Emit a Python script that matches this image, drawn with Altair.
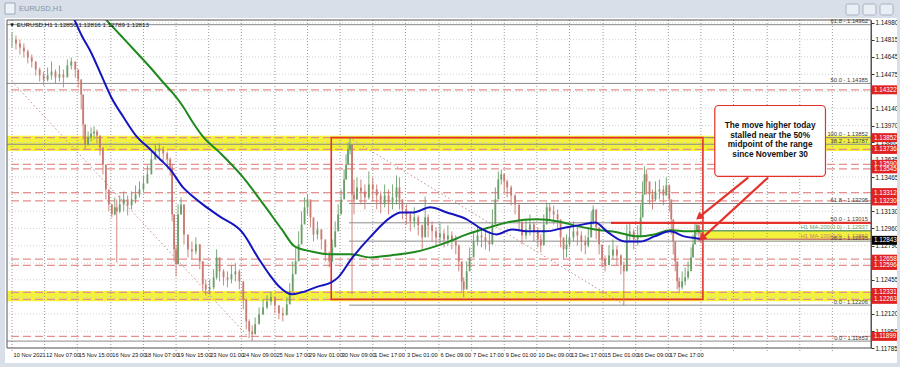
import altair as alt
import pandas as pd

W, H = 864, 328

# ---------------- price samples (bar index, close, high, low) ----------------
bar_x = [0, 4, 8, 12, 16, 20, 24, 28, 32, 36,
         40, 44, 48, 52, 56, 60, 64, 67, 70, 72,
         74, 77, 80, 83, 86, 89, 92, 95, 98, 101,
         104, 106, 109, 113, 117, 121, 125, 129, 133, 137,
         141, 145, 149, 153, 157, 160, 162, 164, 166, 168,
         171, 174, 178, 182, 186, 190, 193, 196, 200, 204,
         207, 210, 214, 218, 222, 226, 230, 234, 237, 240,
         243, 246, 250, 254, 258, 262, 266, 270, 274, 278,
         281, 284, 287, 290, 293, 296, 299, 302, 305, 309,
         313, 317, 321, 324, 327, 330, 333, 336, 338, 340,
         342, 344, 346, 349, 353, 357, 361, 365, 369, 373,
         377, 381, 385, 389, 392, 395, 399, 403, 407, 411,
         415, 418, 421, 425, 429, 433, 437, 441, 445, 449,
         452, 455, 457, 460, 463, 467, 471, 475, 479, 483,
         486, 489, 492, 495, 498, 501, 505, 509, 513, 516,
         520, 524, 528, 532, 535, 538, 541, 544, 548, 552,
         555, 558, 561, 564, 568, 572, 576, 580, 583, 586,
         588, 591, 594, 597, 600, 604, 608, 612, 616, 619,
         622, 625, 629, 633, 636, 638, 640, 642, 645, 648,
         651, 655, 659, 662, 665, 667, 669, 671, 673, 675,
         678, 681, 684, 687, 689, 691, 693, 695, 697, 699]
close = [1.14816, 1.14777, 1.14738, 1.14698, 1.14639, 1.14600, 1.14522, 1.14463, 1.14423, 1.14463,
         1.14502, 1.14443, 1.14473, 1.14443, 1.14561, 1.14600, 1.14522, 1.14423, 1.14276, 1.13982,
         1.13785, 1.13854, 1.13893, 1.13913, 1.13873, 1.13756, 1.13589, 1.13343, 1.13196, 1.13098,
         1.13167, 1.13127, 1.13196, 1.13245, 1.13186, 1.13245, 1.13294, 1.13343, 1.13402, 1.13491,
         1.13638, 1.13716, 1.13736, 1.13697, 1.13638, 1.13559, 1.13098, 1.12754, 1.12607, 1.13098,
         1.13196, 1.12901, 1.12754, 1.12734, 1.12803, 1.12636, 1.12410, 1.12361, 1.12381, 1.12479,
         1.12675, 1.12538, 1.12479, 1.12459, 1.12509, 1.12538, 1.12440, 1.12263, 1.12047, 1.11949,
         1.11919, 1.12018, 1.12116, 1.12184, 1.12243, 1.12283, 1.12204, 1.12126, 1.12106, 1.12214,
         1.12342, 1.12509, 1.12636, 1.12803, 1.12999, 1.13167, 1.13245, 1.13068, 1.12901, 1.12950,
         1.12852, 1.12705, 1.12636, 1.12774, 1.12931, 1.13098, 1.13245, 1.13441, 1.13589, 1.13736,
         1.13785, 1.13294, 1.13245, 1.13363, 1.13323, 1.13265, 1.13392, 1.13343, 1.13284, 1.13206,
         1.13284, 1.13216, 1.13265, 1.13363, 1.13245, 1.13147, 1.13098, 1.13029, 1.13068, 1.12990,
         1.12872, 1.13068, 1.12990, 1.12931, 1.12872, 1.12911, 1.12852, 1.12891, 1.12832, 1.12793,
         1.12636, 1.12440, 1.12361, 1.12538, 1.12675, 1.12832, 1.12891, 1.12872, 1.12832, 1.12803,
         1.12999, 1.13245, 1.13441, 1.13491, 1.13422, 1.13363, 1.13284, 1.13196, 1.13029, 1.12891,
         1.12950, 1.12999, 1.12931, 1.12852, 1.12793, 1.12999, 1.13167, 1.13127, 1.13098, 1.13049,
         1.12872, 1.12754, 1.12803, 1.12872, 1.12931, 1.12891, 1.12832, 1.12793, 1.12872, 1.13029,
         1.13147, 1.12970, 1.12803, 1.12656, 1.12597, 1.12695, 1.12754, 1.12695, 1.12597, 1.12538,
         1.12901, 1.12931, 1.12852, 1.12891, 1.13068, 1.13294, 1.13491, 1.13422, 1.13294, 1.13245,
         1.13323, 1.13343, 1.13284, 1.13382, 1.13245, 1.13049, 1.12832, 1.12636, 1.12440, 1.12381,
         1.12440, 1.12479, 1.12538, 1.12675, 1.12803, 1.12931, 1.12990, 1.12911, 1.12852, 1.12843]
high = [1.14885, 1.14855, 1.14816, 1.14777, 1.14718, 1.14669, 1.14600, 1.14541, 1.14502, 1.14541,
        1.14600, 1.14522, 1.14561, 1.14522, 1.14620, 1.14639, 1.14600, 1.14502, 1.14423, 1.14178,
        1.13952, 1.13913, 1.13952, 1.13962, 1.13932, 1.13854, 1.13716, 1.13491, 1.13294, 1.13196,
        1.13265, 1.13245, 1.13284, 1.13323, 1.13284, 1.13323, 1.13382, 1.13422, 1.13481, 1.13579,
        1.13716, 1.13785, 1.13795, 1.13765, 1.13716, 1.13657, 1.13589, 1.13098, 1.12803, 1.13196,
        1.13265, 1.13196, 1.12872, 1.12832, 1.12872, 1.12803, 1.12636, 1.12459, 1.12459, 1.12558,
        1.12754, 1.12636, 1.12558, 1.12538, 1.12597, 1.12617, 1.12558, 1.12410, 1.12214, 1.12067,
        1.12008, 1.12086, 1.12184, 1.12263, 1.12302, 1.12342, 1.12283, 1.12204, 1.12184, 1.12283,
        1.12420, 1.12636, 1.12774, 1.12931, 1.13127, 1.13265, 1.13294, 1.13196, 1.13029, 1.13029,
        1.12950, 1.12832, 1.12734, 1.12852, 1.13029, 1.13196, 1.13343, 1.13540, 1.13687, 1.13805,
        1.13852, 1.13785, 1.13441, 1.13461, 1.13441, 1.13392, 1.13520, 1.13461, 1.13392, 1.13323,
        1.13392, 1.13343, 1.13392, 1.13481, 1.13461, 1.13245, 1.13196, 1.13127, 1.13167, 1.13088,
        1.12999, 1.13274, 1.13098, 1.13029, 1.12970, 1.13009, 1.12950, 1.12990, 1.12931, 1.12891,
        1.12803, 1.12607, 1.12479, 1.12636, 1.12774, 1.12931, 1.12990, 1.12970, 1.12950, 1.12931,
        1.13147, 1.13363, 1.13520, 1.13540, 1.13500, 1.13441, 1.13382, 1.13294, 1.13167, 1.12999,
        1.13049, 1.13098, 1.13029, 1.12970, 1.12901, 1.13098, 1.13216, 1.13206, 1.13186, 1.13147,
        1.13029, 1.12852, 1.12901, 1.12970, 1.13029, 1.12990, 1.12931, 1.12891, 1.12970, 1.13127,
        1.13186, 1.13127, 1.12931, 1.12774, 1.12695, 1.12793, 1.12852, 1.12793, 1.12705, 1.12636,
        1.12999, 1.13009, 1.12950, 1.12990, 1.13196, 1.13422, 1.13569, 1.13540, 1.13402, 1.13343,
        1.13422, 1.13441, 1.13382, 1.13461, 1.13392, 1.13196, 1.12999, 1.12774, 1.12577, 1.12479,
        1.12538, 1.12577, 1.12636, 1.12774, 1.12901, 1.13009, 1.13015, 1.12999, 1.12950, 1.12891]
low = [1.14738, 1.14718, 1.14669, 1.14639, 1.14581, 1.14541, 1.14463, 1.14404, 1.14364, 1.14404,
       1.14423, 1.14384, 1.14404, 1.14345, 1.14482, 1.14522, 1.14443, 1.14345, 1.14129, 1.13834,
       1.13736, 1.13775, 1.13815, 1.13834, 1.13795, 1.13677, 1.13491, 1.13245, 1.13127, 1.13068,
       1.13088, 1.12626, 1.13108, 1.13127, 1.13088, 1.13147, 1.13206, 1.13265, 1.13323, 1.13402,
       1.13540, 1.13638, 1.13657, 1.13618, 1.13559, 1.13481, 1.13029, 1.12636, 1.12489, 1.12607,
       1.13098, 1.12803, 1.12675, 1.12656, 1.12705, 1.12558, 1.12342, 1.12302, 1.12312, 1.12361,
       1.12459, 1.12440, 1.12400, 1.12381, 1.12420, 1.12440, 1.12361, 1.12165, 1.11968, 1.11890,
       1.11860, 1.11929, 1.12047, 1.12106, 1.12165, 1.12204, 1.12126, 1.12067, 1.12047, 1.12126,
       1.12263, 1.12361, 1.12538, 1.12705, 1.12852, 1.13029, 1.13098, 1.12970, 1.12832, 1.12852,
       1.12754, 1.12636, 1.12577, 1.12636, 1.12803, 1.12950, 1.13127, 1.13294, 1.13441, 1.13618,
       1.13687, 1.12312, 1.13098, 1.13245, 1.13196, 1.13147, 1.13245, 1.13225, 1.13147, 1.13108,
       1.13167, 1.13098, 1.13147, 1.13196, 1.13147, 1.13049, 1.12999, 1.12931, 1.12970, 1.12891,
       1.12754, 1.12901, 1.12872, 1.12832, 1.12793, 1.12813, 1.12774, 1.12793, 1.12754, 1.12705,
       1.12538, 1.12342, 1.12283, 1.12361, 1.12577, 1.12734, 1.12793, 1.12774, 1.12754, 1.12734,
       1.12803, 1.13098, 1.13294, 1.13392, 1.13323, 1.13265, 1.13186, 1.13098, 1.12931, 1.12803,
       1.12852, 1.12891, 1.12832, 1.12774, 1.12725, 1.12803, 1.13029, 1.13029, 1.12999, 1.12950,
       1.12774, 1.12656, 1.12675, 1.12774, 1.12832, 1.12793, 1.12734, 1.12705, 1.12774, 1.12901,
       1.12999, 1.12852, 1.12705, 1.12577, 1.12538, 1.12607, 1.12656, 1.12597, 1.12509, 1.12206,
       1.12558, 1.12832, 1.12754, 1.12793, 1.12872, 1.13098, 1.13294, 1.13294, 1.13196, 1.13147,
       1.13225, 1.13245, 1.13186, 1.13284, 1.13127, 1.12901, 1.12705, 1.12538, 1.12361, 1.12322,
       1.12361, 1.12400, 1.12459, 1.12577, 1.12705, 1.12832, 1.12891, 1.12832, 1.12813, 1.12813]

# ---------------- moving averages ----------------
ma100_x = [55, 63, 71, 80, 90, 100, 113, 126, 140, 150,
           160, 173, 183, 193, 210, 233, 250, 261, 270, 283,
           293, 310, 323, 330, 343, 363, 383, 393, 406, 423,
           440, 460, 476, 490, 506, 523, 540, 560, 573, 590,
           603, 620, 636, 650, 666, 680, 693, 699]
ma100_v = [1.15170, 1.15013, 1.14846, 1.14689, 1.14473, 1.14257, 1.14050, 1.13864, 1.13736, 1.13638,
           1.13540, 1.13363, 1.13274, 1.13196, 1.13078, 1.12921, 1.12656, 1.12499, 1.12391, 1.12312,
           1.12332, 1.12391, 1.12430, 1.12479, 1.12656, 1.12882, 1.13068, 1.13117, 1.13117, 1.13167,
           1.13117, 1.13049, 1.12950, 1.12901, 1.12950, 1.12931, 1.12931, 1.12970, 1.12990, 1.13019,
           1.12921, 1.12832, 1.12832, 1.12882, 1.12931, 1.12882, 1.12862, 1.12853]
ma200_x = [81, 95, 111, 126, 140, 153, 163, 173, 183, 193,
           210, 233, 256, 273, 286, 303, 323, 343, 363, 383,
           406, 440, 460, 483, 506, 530, 553, 573, 590, 613,
           633, 650, 666, 683, 699]
ma200_v = [1.15160, 1.15013, 1.14846, 1.14689, 1.14541, 1.14394, 1.14286, 1.14158, 1.14001, 1.13864,
           1.13707, 1.13471, 1.13176, 1.12950, 1.12783, 1.12734, 1.12705, 1.12705, 1.12675, 1.12695,
           1.12725, 1.12823, 1.12901, 1.12970, 1.13029, 1.13049, 1.13029, 1.12980, 1.12950, 1.12921,
           1.12882, 1.12901, 1.12941, 1.12931, 1.12937]

# ---------------- levels ----------------
red_levels = [1.14322, 1.13852, 1.13736, 1.13590, 1.13545, 1.13312, 1.13230,
              1.12658, 1.12596, 1.12331, 1.12263, 1.11899]
last_price = [1.12843]
fib_full_v = [1.14962, 1.14385, 1.13787, 1.11853]
fib_full_lab = ["61.8 - 1.14962", "50.0 - 1.14385", "38.2 - 1.13787", "0.0 - 1.11853"]
fib_part_v = [1.13852, 1.13205, 1.13015, 1.12835, 1.12206]
fib_part_lab = ["100.0 - 1.13852", "61.8 - 1.13205", "50.0 - 1.13015", "38.2 - 1.12835", "0.0 - 1.12206"]
fib_part_start = 341
fib_trend1 = {"x": [0, 243], "v": [1.14404, 1.11853]}
fib_trend2 = {"x": [341, 620], "v": [1.13852, 1.12206]}
bands_lo = [1.13720, 1.12245]
bands_hi = [1.13870, 1.12345]
range_box = {"x0": [323], "x1": [699], "lo": [1.12263], "hi": [1.13852]}
mid_line = {"x0": [606], "v": [1.13015]}
ma_band = {"x0": [696], "lo": [1.12843], "hi": [1.12937]}
ma_labels = ["H1 MA-200(0.0) - 1.12937", "H1 MA-100(0.0) - 1.12853"]
ma_label_v = [1.12937, 1.12853]

y_ticks = [1.14980, 1.14815, 1.14645, 1.14475, 1.14305, 1.14140, 1.13970, 1.13805, 1.13635,
           1.13465, 1.13300, 1.13130, 1.12960, 1.12790, 1.12620, 1.12455, 1.12285, 1.12120,
           1.11950, 1.11785]
x_tick_pos = [0, 33, 66, 100, 133, 166, 199, 232, 266, 299, 332, 365, 398, 432, 465, 498,
              531, 564, 598, 631, 664]
x_tick_lab = ["10 Nov 2021", "12 Nov 07:00", "15 Nov 15:00", "16 Nov 23:00", "18 Nov 07:00",
              "19 Nov 15:00", "23 Nov 01:00", "24 Nov 09:00", "25 Nov 17:00", "29 Nov 01:00",
              "30 Nov 09:00", "1 Dec 17:00", "3 Dec 01:00", "6 Dec 09:00", "7 Dec 17:00",
              "9 Dec 01:00", "10 Dec 09:00", "13 Dec 17:00", "15 Dec 01:00", "16 Dec 09:00",
              "17 Dec 17:00"]
x_grid_extra = [697, 730, 764, 797, 830]

note_lines = ["The move higher today", "stalled near the 50%", "midpoint of the range", "since November 30"]
note_v = [1.13962, 1.13869, 1.13775, 1.13682]
note_box = {"x0": [711], "x1": [823], "lo": [1.13471], "hi": [1.14168]}
arrows = {"x0": [745, 765], "v0": [1.13461, 1.13461], "x1": [696, 699], "v1": [1.13078, 1.12872],
          "ang": [231.5, 227.7]}
info_text = "EURUSD,H1  1.12850 1.12816 1.12789 1.12813"

# ---------------- styles ----------------
FONT = "Liberation Sans"
RED = "#e4322b"
UP, DOWN = "#6a9f68", "#c97a72"
YELLOW = "#f2f23c"
FRAME = "#d8dfe8"

xs = alt.Scale(domain=[0, W], nice=False, zero=False)
ys = alt.Scale(domain=[1.11785, 1.15008], nice=False, zero=False)
yaxis = alt.Axis(orient="right", values=y_ticks, format=".5f", labelFontSize=6.3, labelFont=FONT,
                 labelColor="#111111", tickSize=3, tickColor="#333333", domainColor="#555555",
                 grid=False, labelPadding=1, title=None, labelOverlap=False, labelFlush=False,
                 labelBound=False)


def X(f):
    return alt.X(f, type="quantitative", scale=xs, axis=None)


def Y(f):
    return alt.Y(f, type="quantitative", scale=ys, axis=yaxis)


one = pd.DataFrame({"a": [0]})
layers = []


def frame_rect(x0, x1, y0, y1, **kw):
    return alt.Chart(one).mark_rect(**kw).encode(
        x=alt.value(x0), x2=alt.value(x1), y=alt.value(y0), y2=alt.value(y1))


# window frame (gray parts only, background is white)
layers.append(frame_rect(-7, W + 29, -20, -2, color=FRAME))
layers.append(frame_rect(-7, -2, -20, H + 19, color=FRAME))
layers.append(frame_rect(W + 26, W + 29, -20, H + 19, color=FRAME))
layers.append(frame_rect(-7, W + 29, H + 15, H + 19, color=FRAME))

# yellow bands
bdf = pd.DataFrame({"lo": bands_lo, "hi": bands_hi})
layers.append(alt.Chart(bdf).mark_rect(color=YELLOW).encode(
    x=alt.value(0), x2=alt.value(W), y=Y("lo"), y2="hi"))
layers.append(alt.Chart(pd.DataFrame(ma_band)).mark_rect(color=YELLOW).encode(
    x=X("x0"), x2=alt.value(W), y=Y("lo"), y2="hi"))

# grid
layers.append(alt.Chart(pd.DataFrame({"v": y_ticks})).mark_rule(
    color="#d2d2d2", strokeDash=[1, 2], strokeWidth=1).encode(y=Y("v")))
layers.append(alt.Chart(pd.DataFrame({"p": x_tick_pos + x_grid_extra})).mark_rule(
    color="#999999", strokeDash=[1, 2], strokeWidth=1).encode(
    x=X("p"), y=alt.value(0), y2=alt.value(H + 4)))

# red dashed levels
layers.append(alt.Chart(pd.DataFrame({"v": red_levels})).mark_rule(
    color="#e58f8f", strokeDash=[8, 4], strokeWidth=1.3).encode(y=Y("v")))

# fib lines
layers.append(alt.Chart(pd.DataFrame({"v": fib_full_v})).mark_rule(
    color="#8a8a8a", strokeWidth=1).encode(y=Y("v")))
fp = pd.DataFrame({"v": fib_part_v, "x0": [fib_part_start] * len(fib_part_v)})
layers.append(alt.Chart(fp).mark_rule(color="#8a8a8a", strokeWidth=1).encode(
    x=X("x0"), x2=alt.value(W), y=Y("v")))
for tr in (fib_trend1, fib_trend2):
    layers.append(alt.Chart(pd.DataFrame(tr)).mark_line(
        color="#c98a8a", strokeDash=[1.5, 2.5], strokeWidth=1).encode(x=X("x"), y=Y("v")))

# range box
layers.append(alt.Chart(pd.DataFrame(range_box)).mark_rect(
    filled=False, fillOpacity=0, stroke=RED, strokeWidth=1.6).encode(
    x=X("x0"), x2="x1", y=Y("lo"), y2="hi"))

# candles
opens = [close[0]] + close[:-1]
cdf = pd.DataFrame({"x": bar_x, "o": opens, "c": close, "h": high, "l": low})
cdf["dir"] = ["up" if c >= o else "down" for o, c in zip(opens, close)]
ccol = alt.Color("dir:N", scale=alt.Scale(domain=["up", "down"], range=[UP, DOWN]), legend=None)
layers.append(alt.Chart(cdf).mark_rule(strokeWidth=0.9, clip=True).encode(
    x=X("x"), y=Y("l"), y2="h", color=ccol))
layers.append(alt.Chart(cdf).mark_bar(width=1.8, clip=True).encode(
    x=X("x"), y=Y("o"), y2="c", color=ccol))

# moving averages
layers.append(alt.Chart(pd.DataFrame({"x": ma200_x, "v": ma200_v})).mark_line(
    color="#1e8a1e", strokeWidth=2, clip=True, interpolate="monotone").encode(x=X("x"), y=Y("v")))
layers.append(alt.Chart(pd.DataFrame({"x": ma100_x, "v": ma100_v})).mark_line(
    color="#1515c0", strokeWidth=2, clip=True, interpolate="monotone").encode(x=X("x"), y=Y("v")))

# MA level lines and 50% red line
mal = pd.DataFrame({"v": ma_label_v, "x0": [ma_band["x0"][0]] * 2, "k": ["g", "b"]})
layers.append(alt.Chart(mal).mark_rule(strokeWidth=1.4).encode(
    x=X("x0"), x2=alt.value(W), y=Y("v"),
    color=alt.Color("k:N", scale=alt.Scale(domain=["g", "b"], range=["#2a8a2a", "#303040"]), legend=None)))
layers.append(alt.Chart(pd.DataFrame(mid_line)).mark_rule(color=RED, strokeWidth=2.2).encode(
    x=X("x0"), x2=alt.value(W), y=Y("v")))

# fib labels
fl = pd.DataFrame({"v": fib_full_v + fib_part_v, "t": fib_full_lab + fib_part_lab})
layers.append(alt.Chart(fl).mark_text(align="right", baseline="bottom", dy=-0.5, fontSize=5.8,
                                      font=FONT, color="#3a3a3a").encode(
    x=alt.value(W - 3), y=Y("v"), text="t:N"))
mlab = pd.DataFrame({"v": ma_label_v, "t": ma_labels, "k": ["g", "b"]})
layers.append(alt.Chart(mlab).mark_text(align="right", baseline="bottom", dy=-0.5, fontSize=5.8,
                                        font=FONT).encode(
    x=alt.value(W - 3), y=Y("v"), text="t:N",
    color=alt.Color("k:N", scale=alt.Scale(domain=["g", "b"], range=["#1e7a1e", "#1515a0"]), legend=None)))

# annotation
layers.append(alt.Chart(pd.DataFrame(note_box)).mark_rect(
    fill="white", stroke=RED, strokeWidth=1.2, cornerRadius=4).encode(
    x=X("x0"), x2="x1", y=Y("lo"), y2="hi"))
nt = pd.DataFrame({"t": note_lines, "v": note_v, "x": [767] * 4})
layers.append(alt.Chart(nt).mark_text(align="center", baseline="middle", fontSize=8.3,
                                      fontWeight="bold", font=FONT, color="#111111").encode(
    x=X("x"), y=Y("v"), text="t:N"))
adf = pd.DataFrame(arrows)
layers.append(alt.Chart(adf).mark_rule(color=RED, strokeWidth=2.2).encode(
    x=X("x0"), x2="x1", y=Y("v0"), y2="v1"))
layers.append(alt.Chart(adf).mark_point(shape="triangle", filled=True, color=RED, size=70, opacity=1).encode(
    x=X("x1"), y=Y("v1"), angle=alt.Angle("ang:Q", scale=None)))

# plot border
layers.append(alt.Chart(one).mark_rect(filled=False, fillOpacity=0, stroke="#555555", strokeWidth=1).encode(
    x=alt.value(0), x2=alt.value(W), y=alt.value(0), y2=alt.value(H)))

# right-axis price boxes
rl = pd.DataFrame({"v": red_levels})
layers.append(alt.Chart(rl).transform_calculate(t="datum.v + 0.00044", b="datum.v - 0.00044").mark_rect(
    color="#e02222").encode(x=alt.value(W + 1), x2=alt.value(W + 26), y=Y("t"), y2="b:Q"))
layers.append(alt.Chart(rl).mark_text(align="left", baseline="middle", fontSize=6.3, font=FONT,
                                      color="white").encode(
    x=alt.value(W + 3), y=Y("v"), text=alt.Text("v:Q", format=".5f")))
lp = pd.DataFrame({"v": last_price})
layers.append(alt.Chart(lp).transform_calculate(t="datum.v + 0.00044", b="datum.v - 0.00044").mark_rect(
    color="#000000").encode(x=alt.value(W + 1), x2=alt.value(W + 26), y=Y("t"), y2="b:Q"))
layers.append(alt.Chart(lp).mark_text(align="left", baseline="middle", fontSize=6.3, font=FONT,
                                      color="white").encode(
    x=alt.value(W + 3), y=Y("v"), text=alt.Text("v:Q", format=".5f")))

# x labels
xl = pd.DataFrame({"p": x_tick_pos, "t": x_tick_lab})
layers.append(alt.Chart(xl).mark_text(align="left", baseline="middle", fontSize=5.7, font=FONT,
                                      dx=1.5, color="#111111").encode(
    x=X("p"), y=alt.value(H + 7), text="t:N"))

# info line in plot
layers.append(alt.Chart(one).mark_text(align="left", baseline="middle", fontSize=6.2, font=FONT,
                                       color="#111111", text="\u25bc " + info_text).encode(
    x=alt.value(2), y=alt.value(5)))

# title bar
layers.append(frame_rect(-2, 8, -17, -6, fill="#eef2f7", stroke="#8a9ab0", strokeWidth=0.8))
layers.append(alt.Chart(one).mark_text(align="left", baseline="middle", fontSize=7.5, font=FONT,
                                       color="#8793a5", text="EURUSD,H1").encode(
    x=alt.value(12), y=alt.value(-11)))
for bx in (839, 856, 873):
    layers.append(frame_rect(bx, bx + 13, -16, -5, fill="#e9eef4", stroke="#9aa6b6",
                             strokeWidth=0.8, cornerRadius=2))

chart = alt.layer(*layers).properties(
    width=W, height=H,
    padding={"left": 7, "top": 20, "right": 29, "bottom": 19},
    autosize=alt.AutoSizeParams(type="none"),
).configure(background="white").configure_view(stroke=None)

chart.save("out.html", embed_options={"renderer": "svg", "actions": False})
